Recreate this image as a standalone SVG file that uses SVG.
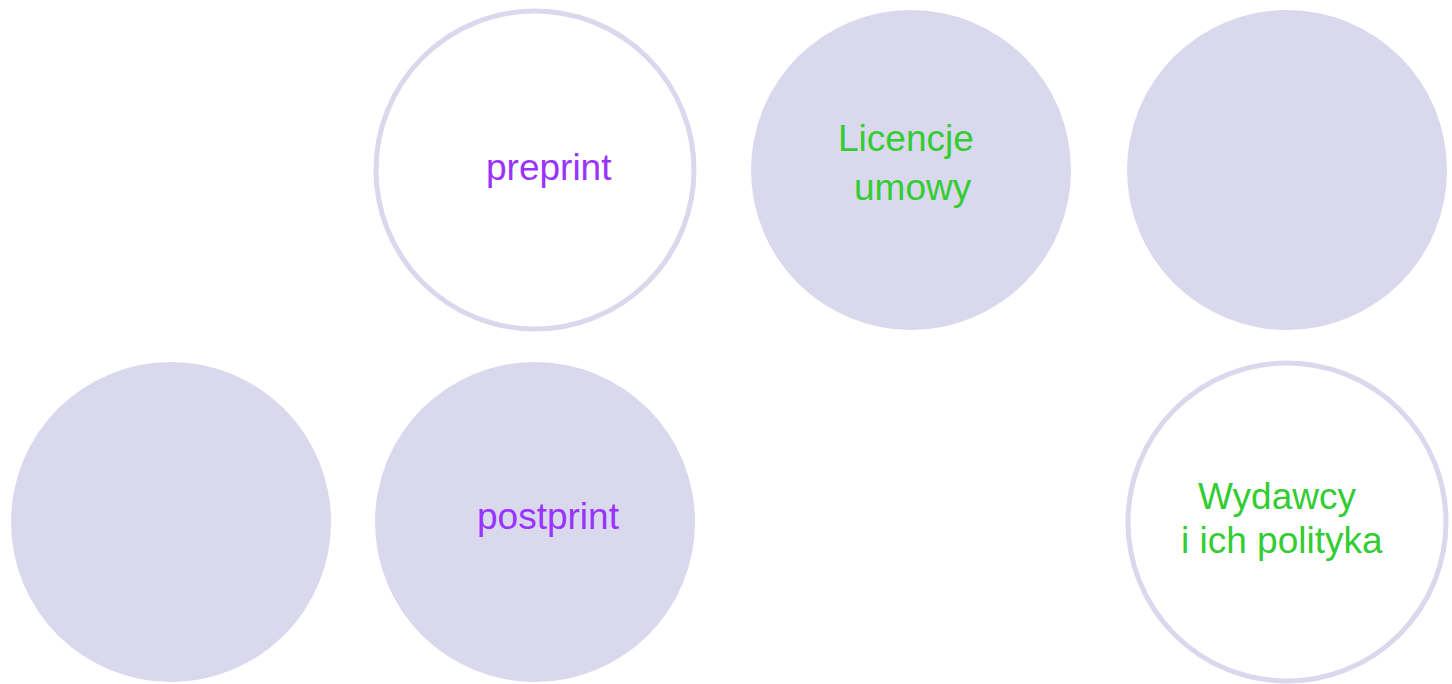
<svg xmlns="http://www.w3.org/2000/svg" width="1452" height="684" viewBox="0 0 1452 684">
<style>
.f{fill:#dad8ed;stroke:none}
.o{fill:#ffffff;stroke:#dad8ed;stroke-width:5}
.t{font-family:"Liberation Sans",Arial,sans-serif;font-size:37px}
.p{fill:#9933ff}
.g{fill:#33cc33}
</style>
<rect width="1452" height="684" fill="#ffffff"/>
<g id="node-preprint">
<circle class="o" cx="535" cy="170" r="159"/>
<text class="t p" x="486" y="180">preprint</text>
</g>
<g id="node-licencje">
<circle class="f" cx="911" cy="170" r="160"/>
<text class="t g" x="838" y="151">Licencje</text>
<text class="t g" x="854" y="200">umowy</text>
</g>
<g id="node-top-right">
<circle class="f" cx="1287" cy="170" r="160"/>
</g>
<g id="node-bottom-left">
<circle class="f" cx="171" cy="522" r="160"/>
</g>
<g id="node-postprint">
<circle class="f" cx="535" cy="522" r="160"/>
<text class="t p" x="477" y="529">postprint</text>
</g>
<g id="node-wydawcy">
<circle class="o" cx="1287" cy="522" r="159"/>
<text class="t g" x="1198" y="509">Wydawcy</text>
<text class="t g" x="1181" y="553">i ich polityka</text>
</g>
<g id="connectors"></g>
</svg>
